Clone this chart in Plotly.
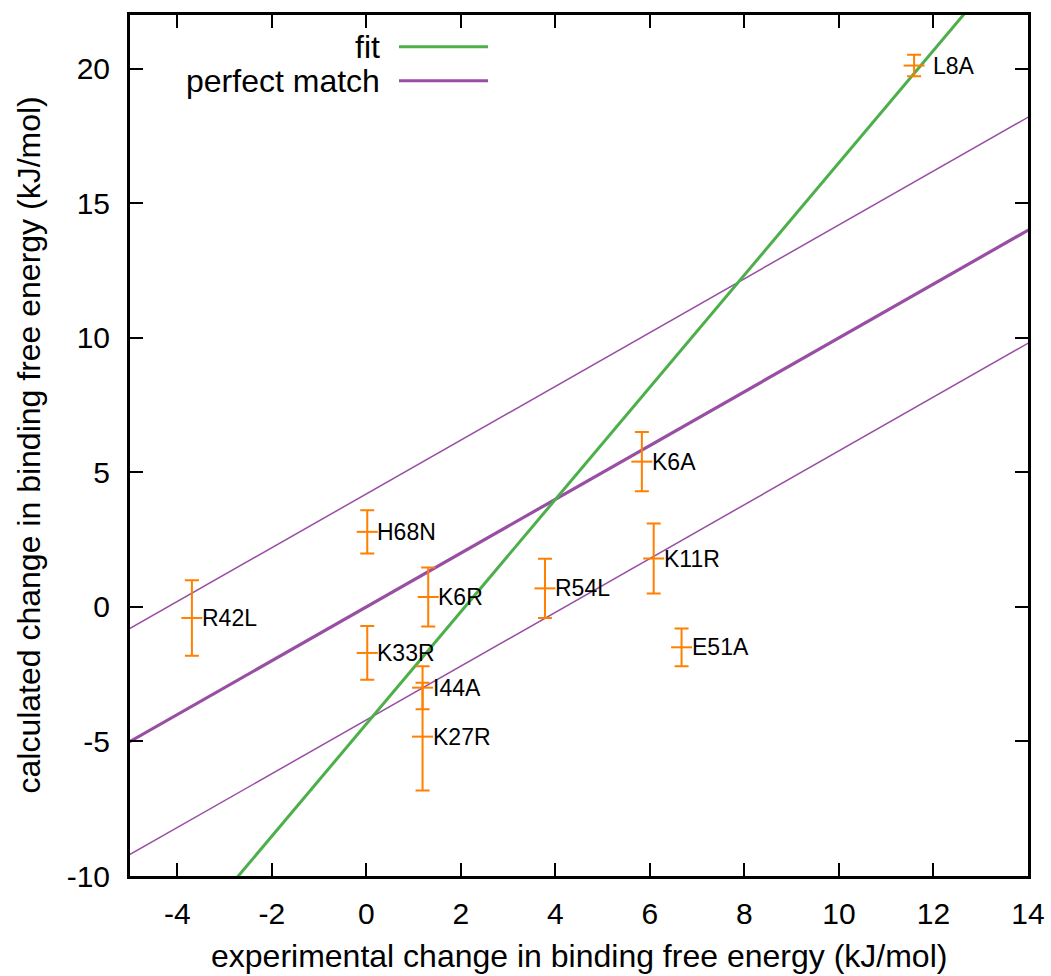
import plotly.graph_objects as go

# Data
labels = ["R42L", "H68N", "K6R", "K33R", "I44A", "K27R", "R54L", "K6A", "K11R", "E51A", "L8A"]
exp_dg = [-3.69, 0.02, 1.31, 0.02, 1.19, 1.19, 3.78, 5.83, 6.08, 6.67, 11.59]
calc_dg = [-0.41, 2.79, 0.37, -1.71, -3.0, -4.82, 0.69, 5.40, 1.80, -1.50, 20.12]
calc_err = [1.4, 0.8, 1.1, 1.0, 0.8, 2.0, 1.1, 1.1, 1.3, 0.7, 0.4]

fit_slope = 2.086
fit_intercept = -4.35
band = 4.2
x_range = [-5, 14]
y_range = [-10, 22]
x_ticks = [-4, -2, 0, 2, 4, 6, 8, 10, 12, 14]
x_ticktext = ["-4", "-2", "0", "2", "4", "6", "8", "10", "12", "14"]
y_ticks = [-10, -5, 0, 5, 10, 15, 20]
y_ticktext = ["-10", "-5", "0", "5", "10", "15", "20"]
x_title = "experimental change in binding free energy (kJ/mol)"
y_title = "calculated change in binding free energy (kJ/mol)"

GREEN = "#4daf4a"
PURPLE = "#984ea3"
ORANGE = "#ff7f00"
FONT = "Liberation Sans, Arial, sans-serif"

fig = go.Figure()

xl = [x_range[0] - 1, x_range[1] + 1]
# thin band lines
fig.add_trace(go.Scatter(x=xl, y=[v + band for v in xl], mode="lines",
                         line=dict(color=PURPLE, width=1.5), showlegend=False, hoverinfo="skip"))
fig.add_trace(go.Scatter(x=xl, y=[v - band for v in xl], mode="lines",
                         line=dict(color=PURPLE, width=1.5), showlegend=False, hoverinfo="skip"))
# perfect match
fig.add_trace(go.Scatter(x=xl, y=xl, mode="lines",
                         line=dict(color=PURPLE, width=3.2), showlegend=False, hoverinfo="skip"))
# fit
fig.add_trace(go.Scatter(x=xl, y=[fit_slope * v + fit_intercept for v in xl], mode="lines",
                         line=dict(color=GREEN, width=3), showlegend=False, hoverinfo="skip"))

# data with error bars
fig.add_trace(go.Scatter(
    x=exp_dg, y=calc_dg, mode="markers",
    marker=dict(symbol="line-ew", size=15, line=dict(color=ORANGE, width=2), color=ORANGE),
    error_y=dict(type="data", array=calc_err, visible=True, color=ORANGE, thickness=2, width=7),
    showlegend=False))

extra_shift = {"L8A": 9}
annotations = []
for lab, x, y in zip(labels, exp_dg, calc_dg):
    annotations.append(dict(x=x, y=y, xref="x", yref="y", text=lab, showarrow=False,
                            xanchor="left", yanchor="middle", xshift=8 + extra_shift.get(lab, 0),
                            font=dict(family=FONT, size=23, color="black")))

# layout geometry (pixels)
L, R, T, B = 130, 1028, 15, 876
W, H = R - L, B - T
def px(x):
    return (x - L) / W
def py(y):
    return (B - y) / H

# axis titles
annotations.append(dict(x=0.5, y=py(956), xref="paper", yref="paper", text=x_title,
                        showarrow=False, xanchor="center", yanchor="middle",
                        font=dict(family=FONT, size=32, color="black")))
annotations.append(dict(x=px(28), y=0.5, xref="paper", yref="paper", text=y_title,
                        showarrow=False, xanchor="center", yanchor="middle", textangle=-90,
                        font=dict(family=FONT, size=32, color="black")))

# manual legend (gnuplot style: text right, sample line)
legend_items = [("fit", GREEN, 46.7), ("perfect match", PURPLE, 80.7)]
shapes = []
for name, col, ypix in legend_items:
    annotations.append(dict(x=px(382), y=py(ypix), xref="paper", yref="paper", text=name,
                            showarrow=False, xanchor="right", yanchor="middle",
                            font=dict(family=FONT, size=32, color="black")))
    shapes.append(dict(type="line", xref="paper", yref="paper", x0=px(399), x1=px(488),
                       y0=py(ypix), y1=py(ypix), line=dict(color=col, width=3)))

axis_common = dict(showgrid=False, zeroline=False, showline=True, linecolor="black", linewidth=3,
                   mirror="allticks", ticks="inside", ticklen=13, tickwidth=2, tickcolor="black",
                   automargin=False,
                   tickfont=dict(family=FONT, size=30, color="black"))

fig.update_layout(
    width=1051, height=976,
    margin=dict(l=L, r=1051 - R, t=T, b=976 - B),
    plot_bgcolor="white", paper_bgcolor="white",
    xaxis=dict(range=x_range, tickvals=x_ticks, ticktext=x_ticktext, ticklabelstandoff=9,
               **axis_common),
    yaxis=dict(range=y_range, tickvals=y_ticks, ticktext=y_ticktext, ticklabelstandoff=11,
               **axis_common),
    annotations=annotations,
    shapes=shapes,
    showlegend=False,
)

fig.write_html("out.html")
